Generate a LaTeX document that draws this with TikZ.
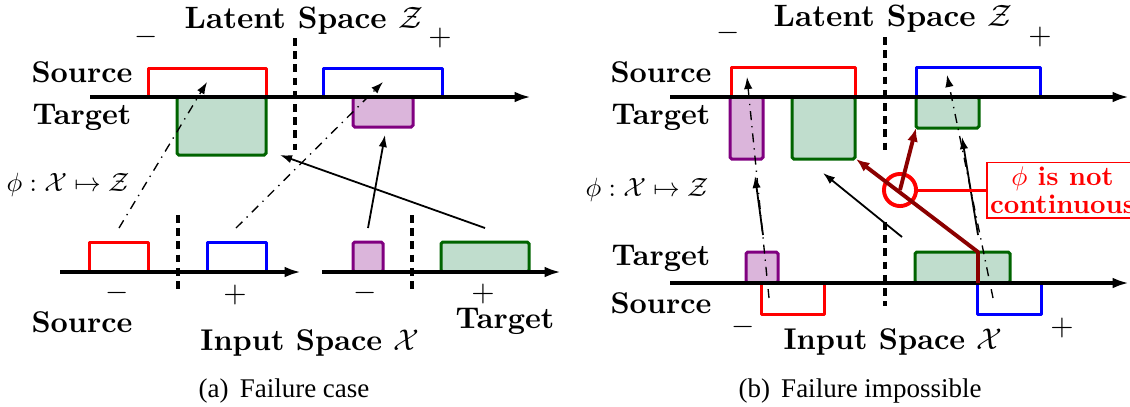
\documentclass[tikz,border=0pt]{standalone}
\usepackage{fontspec}
\newfontfamily\capfont{Liberation Serif}
\usetikzlibrary{arrows.meta}
\definecolor{dred}{RGB}{139,0,0}
\definecolor{pfill}{RGB}{219,181,219}
\definecolor{pline}{RGB}{128,0,128}
\definecolor{gfill}{RGB}{192,221,205}
\definecolor{gline}{RGB}{0,100,0}
\begin{document}
\begin{tikzpicture}[x=0.33333pt,y=-0.33333pt,
  lbl/.style={font=\bfseries,inner sep=0pt},
  sgn/.style={inner sep=0pt},
  phil/.style={inner sep=0pt,scale=0.88,transform shape},
  captxt/.style={font=\capfont,inner sep=0pt,scale=0.9,transform shape},
  axisline/.style={line width=1.1pt,-{Latex[length=5.5pt,width=3.6pt]}},
  srcR/.style={draw=red,line width=1pt,line join=round},
  srcB/.style={draw=blue,line width=1pt,line join=round},
  tgtG/.style={draw=gline,fill=gfill,line width=1pt,rounded corners=0.6pt},
  tgtP/.style={draw=pline,fill=pfill,line width=1pt,rounded corners=0.6pt},
  sepline/.style={line width=1.2pt,dash pattern=on 2.6pt off 1.8pt},
  mapdd/.style={line width=0.45pt,dash dot,-{Latex[length=4pt,width=2.8pt]}},
  mapsol/.style={line width=0.6pt,-{Latex[length=4pt,width=2.8pt]}},
  bad/.style={draw=dred,line width=1.3pt,line join=round,-{Latex[length=4.5pt,width=3.6pt]}}
]
\useasboundingbox (0,0) rectangle (1130,406);

% ================= (a) =================
% latent space
\filldraw[tgtG] (177,97) rectangle (266,155);
\filldraw[tgtP] (353,97) rectangle (413,127);
\draw[srcR] (148,97) -- (148,68) -- (266,68) -- (266,97);
\draw[srcB] (323,97) -- (323,68) -- (442,68) -- (442,97);
\coordinate (aAx0) at (90,97);
\coordinate (aAx1) at (531,97);
\draw[axisline] (aAx0) -- (aAx1);
\coordinate (aSep0) at (295,38);
\coordinate (aSep1) at (295,150);
\draw[sepline] (aSep0) -- (aSep1);
\node[lbl,scale=1.03,transform shape] (aLat) at (304,21) {Latent Space $\mathcal{Z}$};
\node[sgn] (aMinT) at (146,37) {$-$};
\node[sgn] (aPlusT) at (440,38) {$+$};
\node[lbl] (aSrcT) at (82,72) {Source};
\node[lbl] (aTgtT) at (82,117) {Target};
\node[phil] (aPhi) at (68,185) {$\phi:\mathcal{X}\mapsto\mathcal{Z}$};

% input space, source
\draw[srcR] (89,272) -- (89,242) -- (148,242) -- (148,272);
\draw[srcB] (207,272) -- (207,242) -- (266,242) -- (266,272);
\coordinate (aBx0) at (60,272);
\coordinate (aBx1) at (301,272);
\draw[axisline] (aBx0) -- (aBx1);
\coordinate (aSep2) at (178,215);
\coordinate (aSep3) at (178,293);
\draw[sepline] (aSep2) -- (aSep3);
\node[sgn] (aMinB1) at (117,293) {$-$};
\node[sgn] (aPlusB1) at (235,295) {$+$};
% input space, target
\filldraw[tgtP] (353,242) rectangle (383,272);
\filldraw[tgtG] (441,242) rectangle (529,272);
\coordinate (aCx0) at (322,272);
\coordinate (aCx1) at (561,272);
\draw[axisline] (aCx0) -- (aCx1);
\coordinate (aSep4) at (412,215);
\coordinate (aSep5) at (412,293);
\draw[sepline] (aSep4) -- (aSep5);
\node[sgn] (aMinB2) at (365,293) {$-$};
\node[sgn] (aPlusB2) at (483,294) {$+$};
\node[lbl] (aSrcB) at (82,322) {Source};
\node[lbl] (aTgtB) at (505,321) {Target};
\node[lbl] (aInp) at (310,343) {Input Space $\mathcal{X}$};
\node[captxt] (aCap) at (284,391) {(a)\, Failure case};

% mappings (a)
\coordinate (aM1s) at (119,228); \coordinate (aM1e) at (207,82);
\coordinate (aM2s) at (236,228); \coordinate (aM2e) at (383,82);
\coordinate (aM3s) at (368,228); \coordinate (aM3e) at (385,135);
\coordinate (aM4s) at (485,228); \coordinate (aM4e) at (280,155);
\draw[mapdd] (aM1s) -- (aM1e);
\draw[mapdd] (aM2s) -- (aM2e);
\draw[mapsol] (aM3s) -- (aM3e);
\draw[mapsol] (aM4s) -- (aM4e);

% ================= (b) =================
\filldraw[tgtP] (730,97) rectangle (763,159);
\filldraw[tgtG] (792,97) rectangle (855,159);
\filldraw[tgtG] (916,97) rectangle (979,128);
\draw[srcR] (731,97) -- (731,67) -- (855,67) -- (855,97);
\draw[srcB] (916,97) -- (916,67) -- (1040,67) -- (1040,97);
\coordinate (bAx0) at (670,97);
\coordinate (bAx1) at (1129,97);
\draw[axisline] (bAx0) -- (bAx1);
\coordinate (bSep0) at (885,37);
\coordinate (bSep1) at (885,150);
\draw[sepline] (bSep0) -- (bSep1);
\node[lbl,scale=1.03,transform shape] (bLat) at (893,19) {Latent Space $\mathcal{Z}$};
\node[sgn] (bMinT) at (728,33) {$-$};
\node[sgn] (bPlusT) at (1040,37) {$+$};
\node[lbl] (bSrcT) at (661,72) {Source};
\node[lbl] (bTgtT) at (661,117) {Target};
\node[phil] (bPhi) at (647,190) {$\phi:\mathcal{X}\mapsto\mathcal{Z}$};

\filldraw[tgtP] (746,252) rectangle (778,283);
\filldraw[tgtG] (915,252) rectangle (1010,283);
\draw[srcR] (761,283) -- (761,314) -- (824,314) -- (824,283);
\draw[srcB] (977,283) -- (977,314) -- (1041,314) -- (1041,283);
\coordinate (bBx0) at (670,283);
\coordinate (bBx1) at (1129,283);
\draw[axisline] (bBx0) -- (bBx1);
\coordinate (bSep2) at (885,222);
\coordinate (bSep3) at (885,306);
\draw[sepline] (bSep2) -- (bSep3);
\node[sgn] (bMinB) at (743,327) {$-$};
\node[sgn] (bPlusB) at (1062,328) {$+$};
\node[lbl] (bTgtB) at (661,258) {Target};
\node[lbl] (bSrcB) at (661,303) {Source};
\node[lbl] (bInp) at (893,342) {Input Space $\mathcal{X}$};
\node[captxt] (bCap) at (860,391) {(b)\, Failure impossible};

% mappings (b)
\coordinate (bM1s) at (769,298); \coordinate (bM1e) at (747,77);
\coordinate (bM2s) at (763,235); \coordinate (bM2e) at (755,176);
\coordinate (bM3s) at (902,237); \coordinate (bM3e) at (823,173);
\coordinate (bM4s) at (993,298); \coordinate (bM4e) at (947,75);
\coordinate (bM5s) at (978,235); \coordinate (bM5e) at (962,137);
\draw[mapdd] (bM1s) -- (bM1e);
\draw[mapsol] (bM2s) -- (bM2e);
\draw[mapsol] (bM3s) -- (bM3e);
\draw[mapdd] (bM4s) -- (bM4e);
\draw[mapsol] (bM5s) -- (bM5e);

% discontinuity
\coordinate (bR0) at (978,283);
\coordinate (bR1) at (978,252);
\coordinate (bR2) at (856,159);
\coordinate (bR3) at (916,128);
\node[circle,draw=red,line width=1.3pt,minimum size=10.7pt,inner sep=0pt] (circ) at (900,190) {};
\draw[bad] (bR0) -- (bR1) -- (bR2);
\draw[bad] (circ.center) -- (bR3);
\node[draw=red,text=red,line width=0.55pt,font=\bfseries,scale=0.9,transform shape,
      align=center,inner xsep=1.2pt,inner ysep=1.5pt,anchor=west] (note) at (986,190)
      {$\phi$ is not\\[-1.5pt]continuous};
\draw[red,line width=1pt] (circ.east) -- (note.west);
\end{tikzpicture}
\end{document}
